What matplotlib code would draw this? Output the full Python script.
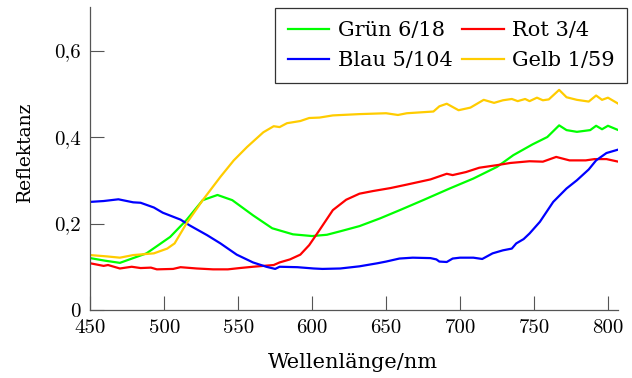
import matplotlib
matplotlib.use("Agg")
import matplotlib.pyplot as plt

green_x = [450, 460, 470, 479, 488, 496, 504, 515, 526, 536, 546, 560, 573, 587, 600, 610, 619, 632, 646, 660, 675, 693, 709, 725, 736, 749, 759, 767, 772, 779, 788, 792, 796, 800, 807]
green_y = [0.120, 0.114, 0.109, 0.120, 0.131, 0.150, 0.169, 0.208, 0.254, 0.266, 0.254, 0.219, 0.189, 0.175, 0.171, 0.174, 0.182, 0.194, 0.212, 0.232, 0.254, 0.281, 0.304, 0.331, 0.358, 0.383, 0.400, 0.427, 0.416, 0.412, 0.416, 0.426, 0.418, 0.426, 0.416]

yellow_x = [450, 461, 470, 479, 493, 502, 507, 515, 526, 538, 547, 556, 567, 574, 578, 583, 592, 598, 605, 614, 632, 641, 650, 658, 664, 682, 686, 691, 699, 707, 716, 723, 729, 735, 739, 744, 747, 752, 756, 760, 767, 772, 779, 787, 792, 796, 800, 807]
yellow_y = [0.127, 0.124, 0.121, 0.127, 0.131, 0.142, 0.154, 0.200, 0.254, 0.308, 0.346, 0.377, 0.411, 0.425, 0.423, 0.432, 0.437, 0.444, 0.445, 0.450, 0.453, 0.454, 0.455, 0.451, 0.455, 0.459, 0.471, 0.477, 0.462, 0.468, 0.486, 0.479, 0.485, 0.488, 0.483, 0.488, 0.483, 0.491, 0.485, 0.487, 0.509, 0.492, 0.486, 0.482, 0.496, 0.486, 0.491, 0.477]

red_x = [450, 459, 462, 470, 478, 484, 491, 495, 506, 511, 522, 533, 543, 551, 560, 574, 578, 585, 592, 598, 605, 614, 623, 632, 641, 653, 664, 680, 691, 695, 704, 713, 725, 734, 747, 756, 765, 774, 785, 791, 799, 807]
red_y = [0.108, 0.102, 0.104, 0.096, 0.100, 0.097, 0.098, 0.094, 0.095, 0.099, 0.096, 0.094, 0.094, 0.097, 0.100, 0.104, 0.110, 0.117, 0.128, 0.150, 0.185, 0.231, 0.255, 0.269, 0.275, 0.282, 0.290, 0.302, 0.315, 0.312, 0.319, 0.329, 0.335, 0.340, 0.344, 0.343, 0.354, 0.346, 0.346, 0.349, 0.349, 0.343]

blue_x = [450, 459, 469, 479, 484, 493, 499, 511, 517, 529, 538, 549, 560, 569, 575, 578, 590, 601, 607, 619, 632, 644, 650, 659, 668, 680, 684, 686, 691, 695, 700, 709, 715, 722, 729, 735, 738, 743, 747, 754, 763, 772, 779, 787, 792, 799, 807]
blue_y = [0.250, 0.252, 0.256, 0.249, 0.248, 0.237, 0.225, 0.209, 0.196, 0.173, 0.154, 0.128, 0.110, 0.100, 0.095, 0.100, 0.099, 0.096, 0.095, 0.096, 0.101, 0.108, 0.112, 0.119, 0.121, 0.120, 0.117, 0.112, 0.111, 0.119, 0.121, 0.121, 0.118, 0.131, 0.138, 0.142, 0.154, 0.164, 0.177, 0.204, 0.250, 0.281, 0.300, 0.325, 0.346, 0.363, 0.371]

x_ticks = [450, 500, 550, 600, 650, 700, 750, 800]
y_ticks = [0, 0.2, 0.4, 0.6]
y_tick_labels = ["0", "0,2", "0,4", "0,6"]

TEXT_FONT = ["DejaVu Serif"]
TICK_FONT = ["cmr10", "DejaVu Serif"]

fig = plt.figure(figsize=(6.32, 3.78), dpi=100)
ax = fig.add_axes([90.3 / 632, 1 - 310 / 378, (618.3 - 90.3) / 632, (310 - 7.3) / 378])

lw = 1.6
l_g, = ax.plot(green_x, green_y, color="#00ff00", lw=lw, label="Grün 6/18")
l_r, = ax.plot(red_x, red_y, color="#ff0000", lw=lw, label="Rot 3/4")
l_b, = ax.plot(blue_x, blue_y, color="#0000ff", lw=lw, label="Blau 5/104")
l_y, = ax.plot(yellow_x, yellow_y, color="#ffcc00", lw=lw, label="Gelb 1/59")

ax.set_xlim(450, 807)
ax.set_ylim(0, 0.7)
ax.spines["top"].set_visible(False)
ax.spines["right"].set_visible(False)
for s in ("left", "bottom"):
    ax.spines[s].set_color("#555555")
    ax.spines[s].set_linewidth(0.9)

ax.set_xticks(x_ticks)
ax.set_yticks(y_ticks)
ax.set_yticklabels(y_tick_labels)
ax.tick_params(direction="in", length=10, width=0.8, color="#555555")
ax.tick_params(axis="x", pad=6.5)
ax.tick_params(axis="y", pad=7)
for lab in ax.get_xticklabels() + ax.get_yticklabels():
    lab.set_fontfamily(TICK_FONT)
    lab.set_fontsize(15)

ax.set_xlabel("Wellenlänge/nm", fontsize=15, family=TEXT_FONT)
ax.xaxis.set_label_coords(0.497, -0.143)
ax.xaxis.label.set_verticalalignment("top")
ax.set_ylabel("Reflektanz", fontsize=13.5, family=TEXT_FONT)
ax.yaxis.set_label_coords(-0.107, 0.524)

leg = fig.legend(handles=[l_g, l_b, l_r, l_y], ncol=2, loc="upper right",
                 bbox_to_anchor=(627 / 632, 1 - 8.3 / 378), borderaxespad=0,
                 prop={"family": TEXT_FONT, "size": 15},
                 frameon=True, fancybox=False, framealpha=1, edgecolor="#333333",
                 handlelength=2.0, handletextpad=0.4, columnspacing=0.45,
                 labelspacing=0.55, borderpad=0.6)
leg.get_frame().set_linewidth(0.9)

fig.savefig("out.png", dpi=100)
